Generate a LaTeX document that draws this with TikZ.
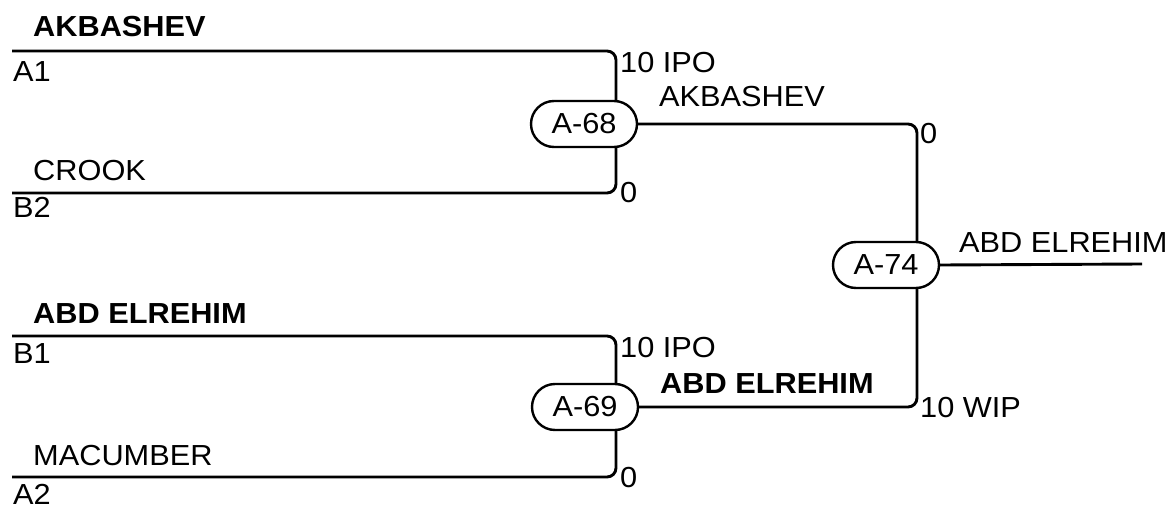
\documentclass[tikz,border=0pt]{standalone}
\usepackage{fontspec}
\setmainfont{Liberation Sans}[FakeStretch=1.06]
\usetikzlibrary{shapes.misc}
\begin{document}
\begin{tikzpicture}[x=1pt,y=-1pt,
  every node/.style={font=\fontsize{29}{33}\selectfont, inner sep=0pt},
  match/.style={rounded rectangle, draw, line width=2.4pt, fill=white, minimum width=106pt, minimum height=46pt},
  wire/.style={line width=2.9pt, rounded corners=9pt},
  lbl/.style={anchor=base west},
  blbl/.style={anchor=base west, font=\fontsize{29}{33}\selectfont\bfseries}]
\useasboundingbox (0,0) rectangle (1175,508);
% match nodes
\node[match] (A68) at (584,124) {A-68};
\node[match] (A69) at (585,407) {A-69};
\node[match] (A74) at (886,265) {A-74};
% free ends
\coordinate (A1s) at (12,51);
\coordinate (B2s) at (12,193);
\coordinate (B1s) at (12,336);
\coordinate (A2s) at (12,477);
\coordinate (Fin) at (1142,264);
% connectors
\draw[wire] (A1s) -- (616,51) -- ([xshift=32pt]A68.north);
\draw[wire] (B2s) -- (616,193) -- ([xshift=32pt]A68.south);
\draw[wire] (B1s) -- (616,336) -- ([xshift=31pt]A69.north);
\draw[wire] (A2s) -- (616,477) -- ([xshift=31pt]A69.south);
\draw[wire] (A68.east) -- (917,124) -- ([xshift=31pt]A74.north);
\draw[wire] (A69.east) -- (917,407) -- ([xshift=31pt]A74.south);
\draw[wire] (A74.east) -- (Fin);
% labels
\node[blbl] (t1) at (33,37) {AKBASHEV};
\node[lbl] (s1) at (13,82) {A1};
\node[lbl] (t2) at (33,180) {CROOK};
\node[lbl] (s2) at (13,217) {B2};
\node[blbl] (t3) at (33,323) {ABD ELREHIM};
\node[lbl] (s3) at (13,363) {B1};
\node[lbl] (t4) at (33,465) {MACUMBER};
\node[lbl] (s4) at (13,504) {A2};
\node[lbl] (c1) at (620,73) {10 IPO};
\node[lbl] (c2) at (620,202) {0};
\node[lbl] (w1) at (659,107) {AKBASHEV};
\node[lbl] (c3) at (620,357) {10 IPO};
\node[lbl] (c4) at (620,487) {0};
\node[blbl] (w2) at (660,393) {ABD ELREHIM};
\node[lbl] (c5) at (920,143) {0};
\node[lbl] (c6) at (920,417) {10 WIP};
\node[lbl] (w3) at (959,252) {ABD ELREHIM};
\end{tikzpicture}
\end{document}
